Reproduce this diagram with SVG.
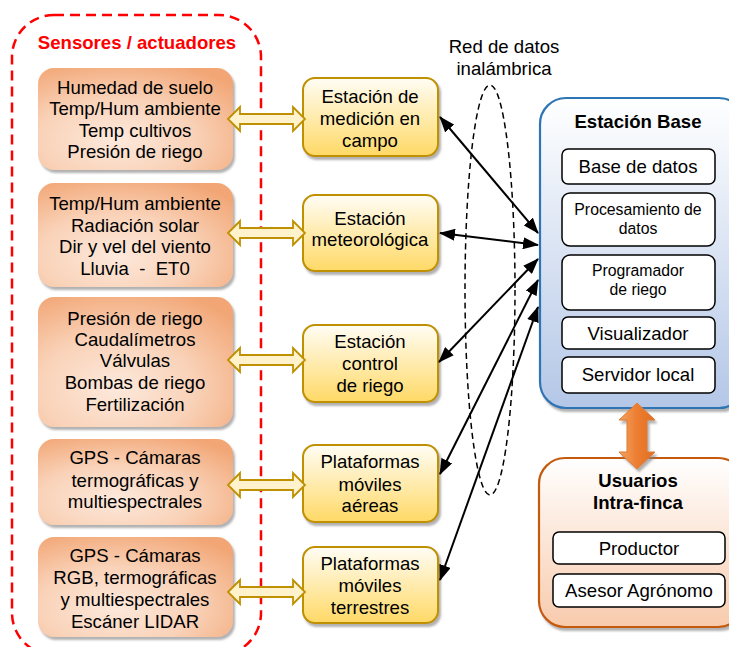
<svg xmlns="http://www.w3.org/2000/svg" width="729" height="647" viewBox="0 0 729 647">
<defs>
<style>
text{font-family:"Liberation Sans",Arial,sans-serif;fill:#000;text-anchor:middle}
.t16{font-size:18.6px}
.t13{font-size:15.8px}
.b{font-weight:bold}
.red{fill:#ff0000}
.sens{fill:url(#gOr);filter:url(#sh)}
.yel{fill:url(#gYe);stroke:#bf9000;stroke-width:2;filter:url(#sh)}
.wbox{fill:#fff;stroke:#000;stroke-width:1.5}
.dar{fill:#fff2cc;stroke:#bf9000;stroke-width:1.8}
.conn{stroke:#000;stroke-width:2;fill:none;marker-start:url(#ah);marker-end:url(#ah)}
</style>
<radialGradient id="gOr" cx="0.4" cy="0.7" r="0.8">
<stop offset="0" stop-color="#fde9dc"/>
<stop offset="0.5" stop-color="#f9d2b8"/>
<stop offset="1" stop-color="#f2a675"/>
</radialGradient>
<linearGradient id="gYe" x1="0" y1="0" x2="0" y2="1">
<stop offset="0" stop-color="#fffdf5"/>
<stop offset="1" stop-color="#ffd966"/>
</linearGradient>
<linearGradient id="gBl" x1="0" y1="0" x2="0" y2="1">
<stop offset="0" stop-color="#ffffff"/>
<stop offset="1" stop-color="#b4c7e7"/>
</linearGradient>
<linearGradient id="gUs" x1="0" y1="0" x2="0" y2="1">
<stop offset="0" stop-color="#ffffff"/>
<stop offset="1" stop-color="#f8cbad"/>
</linearGradient>
<linearGradient id="gArr" x1="0" y1="0" x2="1" y2="0">
<stop offset="0" stop-color="#f4a460"/>
<stop offset="0.5" stop-color="#ed7d31"/>
<stop offset="1" stop-color="#e07020"/>
</linearGradient>
<filter id="sh" x="-10%" y="-10%" width="130%" height="130%">
<feDropShadow dx="2" dy="3" stdDeviation="1" flood-color="#7f7f7f" flood-opacity="0.6"/>
</filter>
<marker id="ah" viewBox="0 0 16 12" refX="15" refY="6" markerWidth="16" markerHeight="12" markerUnits="userSpaceOnUse" orient="auto-start-reverse">
<path d="M0,0 L16,6 L0,12 Z" fill="#000"/>
</marker>
</defs>

<g id="sensores-grupo">
<rect x="12" y="15" width="249" height="640" rx="42" fill="none" stroke="#ff0000" stroke-width="2.5" stroke-dasharray="10 6"/>
<text x="137" y="49" class="t16 b red">Sensores / actuadores</text>
</g>

<g id="sensor1">
<rect x="38" y="68" width="195" height="102" rx="16" class="sens"/>
<text class="t16"><tspan x="135" y="94">Humedad de suelo</tspan><tspan x="135" y="115">Temp/Hum ambiente</tspan><tspan x="135" y="137">Temp cultivos</tspan><tspan x="135" y="158">Presión de riego</tspan></text>
</g>
<g id="sensor2">
<rect x="38" y="183" width="195" height="104" rx="16" class="sens"/>
<text class="t16" xml:space="preserve"><tspan x="135" y="210">Temp/Hum ambiente</tspan><tspan x="135" y="232">Radiación solar</tspan><tspan x="135" y="253">Dir y vel del viento</tspan><tspan x="135" y="275">Lluvia  -  ET0</tspan></text>
</g>
<g id="sensor3">
<rect x="38" y="297" width="195" height="130" rx="16" class="sens"/>
<text class="t16"><tspan x="135" y="325">Presión de riego</tspan><tspan x="135" y="346">Caudalímetros</tspan><tspan x="135" y="367">Válvulas</tspan><tspan x="135" y="389">Bombas de riego</tspan><tspan x="135" y="411">Fertilización</tspan></text>
</g>
<g id="sensor4">
<rect x="38" y="439" width="195" height="86" rx="16" class="sens"/>
<text class="t16"><tspan x="135" y="464">GPS - Cámaras</tspan><tspan x="135" y="487">termográficas y</tspan><tspan x="135" y="508">multiespectrales</tspan></text>
</g>
<g id="sensor5">
<rect x="38" y="537" width="195" height="100" rx="16" class="sens"/>
<text class="t16"><tspan x="135" y="562">GPS - Cámaras</tspan><tspan x="135" y="584">RGB, termográficas</tspan><tspan x="135" y="606">y multiespectrales</tspan><tspan x="135" y="628">Escáner LIDAR</tspan></text>
</g>

<g id="estacion-medicion">
<rect x="303" y="78" width="135" height="78" rx="12" class="yel"/>
<text class="t16"><tspan x="370" y="103">Estación de</tspan><tspan x="370" y="125">medición en</tspan><tspan x="370" y="147">campo</tspan></text>
</g>
<g id="estacion-meteo">
<rect x="303" y="195" width="135" height="76" rx="12" class="yel"/>
<text class="t16"><tspan x="370" y="225">Estación</tspan><tspan x="370" y="246">meteorológica</tspan></text>
</g>
<g id="estacion-control">
<rect x="303" y="325" width="135" height="77" rx="12" class="yel"/>
<text class="t16"><tspan x="370" y="348">Estación</tspan><tspan x="370" y="370">control</tspan><tspan x="370" y="392">de riego</tspan></text>
</g>
<g id="plataformas-aereas">
<rect x="303" y="445" width="135" height="77" rx="12" class="yel"/>
<text class="t16"><tspan x="370" y="468">Plataformas</tspan><tspan x="370" y="491">móviles</tspan><tspan x="370" y="512">aéreas</tspan></text>
</g>
<g id="plataformas-terrestres">
<rect x="303" y="547" width="135" height="76" rx="12" class="yel"/>
<text class="t16"><tspan x="370" y="570">Plataformas</tspan><tspan x="370" y="592">móviles</tspan><tspan x="370" y="614">terrestres</tspan></text>
</g>

<g id="red-datos">
<text class="t16"><tspan x="504" y="53">Red de datos</tspan><tspan x="504" y="75">inalámbrica</tspan></text>
<ellipse cx="490" cy="290" rx="25" ry="205" fill="none" stroke="#000" stroke-width="1.5" stroke-dasharray="6 4"/>
</g>

<g id="estacion-base">
<rect x="540" y="98" width="205" height="310" rx="26" fill="url(#gBl)" stroke="#2e75b6" stroke-width="2.2" filter="url(#sh)"/>
<text x="638" y="128" class="t16 b">Estación Base</text>
<rect x="562" y="149" width="153" height="35" rx="6" class="wbox"/>
<text x="638" y="173" class="t16">Base de datos</text>
<rect x="562" y="193" width="153" height="53" rx="8" class="wbox"/>
<text class="t13"><tspan x="638" y="215">Procesamiento de</tspan><tspan x="638" y="234">datos</tspan></text>
<rect x="562" y="255" width="153" height="55" rx="8" class="wbox"/>
<text class="t13"><tspan x="638" y="276">Programador</tspan><tspan x="638" y="295">de riego</tspan></text>
<rect x="562" y="317" width="153" height="32" rx="6" class="wbox"/>
<text x="638" y="340" class="t16">Visualizador</text>
<rect x="562" y="357" width="153" height="36" rx="6" class="wbox"/>
<text x="638" y="381" class="t16">Servidor local</text>
</g>

<g id="usuarios">
<rect x="539" y="458" width="205" height="169" rx="26" fill="url(#gUs)" stroke="#c55a11" stroke-width="2.2" filter="url(#sh)"/>
<text class="t16 b"><tspan x="638" y="487">Usuarios</tspan><tspan x="638" y="509">Intra-finca</tspan></text>
<rect x="553" y="532" width="172" height="32" rx="6" class="wbox"/>
<text x="639" y="555" class="t16">Productor</text>
<rect x="553" y="574" width="172" height="33" rx="6" class="wbox"/>
<text x="639" y="597" class="t16">Asesor Agrónomo</text>
</g>

<g id="conectores">
<path class="dar" d="M228,119 L240,107 L240,114 L293,114 L293,107 L305,119 L293,131 L293,124 L240,124 L240,131 Z"/>
<path class="dar" d="M228,233 L240,221 L240,228 L293,228 L293,221 L305,233 L293,245 L293,238 L240,238 L240,245 Z"/>
<path class="dar" d="M228,360 L240,348 L240,355 L293,355 L293,348 L305,360 L293,372 L293,365 L240,365 L240,372 Z"/>
<path class="dar" d="M228,485 L240,473 L240,480 L293,480 L293,473 L305,485 L293,497 L293,490 L240,490 L240,497 Z"/>
<path class="dar" d="M228,592 L240,580 L240,587 L293,587 L293,580 L305,592 L293,604 L293,597 L240,597 L240,604 Z"/>
<line class="conn" x1="440" y1="117" x2="538" y2="233"/>
<line class="conn" x1="440" y1="233" x2="538" y2="245"/>
<line class="conn" x1="439" y1="362" x2="538" y2="259"/>
<line class="conn" x1="440" y1="474" x2="538" y2="280"/>
<line class="conn" x1="440" y1="580" x2="538" y2="307"/>
<path d="M637,403 L655,420 L647,420 L647,452 L655,452 L637,469 L619,452 L627,452 L627,420 L619,420 Z" fill="url(#gArr)" stroke="#e07a30" stroke-width="1" filter="url(#sh)"/>
</g>
</svg>
